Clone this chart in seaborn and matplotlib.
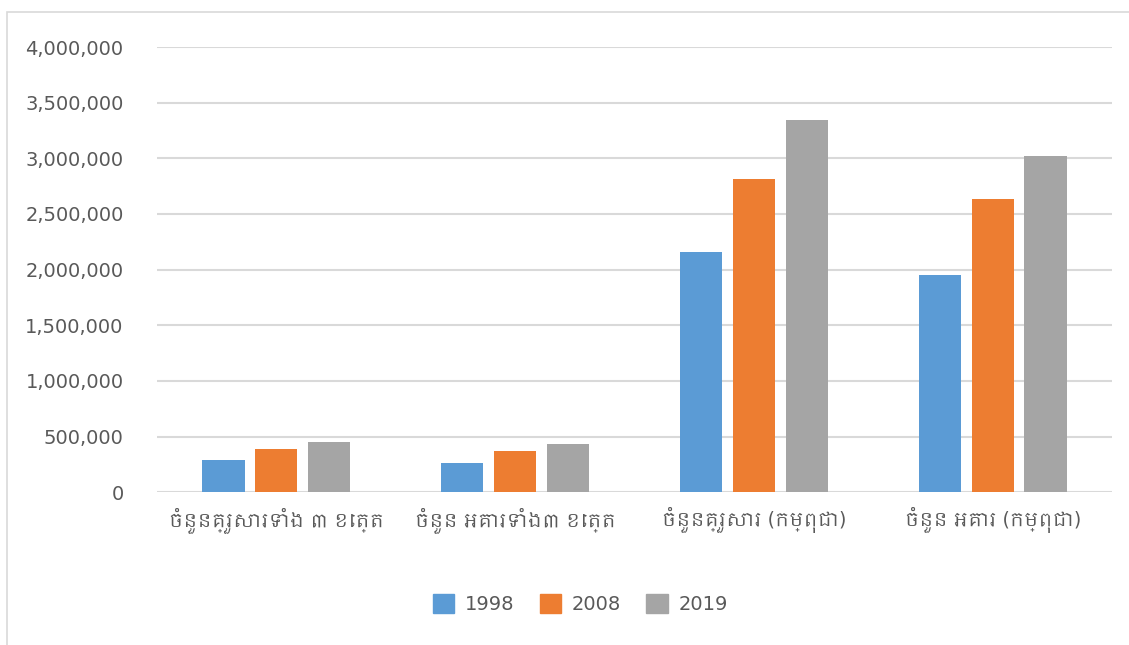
import pandas as pd
import seaborn as sns
import matplotlib.pyplot as plt
from matplotlib import font_manager
from matplotlib.patches import Rectangle
from matplotlib.ticker import FuncFormatter

categories = [
    "ចំនួនគ្រួសារទាំង ៣ ខេត្ត",
    "ចំនួន អគារទាំង៣ ខេត្ត",
    "ចំនួនគ្រួសារ (កម្ពុជា)",
    "ចំនួន អគារ (កម្ពុជា)",
]
years = ["1998", "2008", "2019"]
values_1998 = [292000, 259000, 2159000, 1955000]
values_2008 = [385000, 373000, 2817000, 2635000]
values_2019 = [450000, 430000, 3341000, 3021000]
colors = ["#5B9BD5", "#ED7D31", "#A5A5A5"]

df = pd.DataFrame({
    "category": categories * 3,
    "year": [y for y in years for _ in categories],
    "value": values_1998 + values_2008 + values_2019,
})

sns.set_theme(style="white")
# pick up a Khmer-capable font if one happens to be installed
khmer = [f.name for f in font_manager.fontManager.ttflist if "khmer" in f.name.lower()]
families = ["DejaVu Sans"] + sorted(set(khmer))
plt.rcParams["font.family"] = families

fig = plt.figure(figsize=(11.29, 6.45), dpi=100)
ax = fig.add_axes([0.139, 0.237, 0.846, 0.690])

sns.barplot(data=df, x="category", y="value", hue="year", palette=colors,
            width=0.665, gap=0.2, saturation=1, edgecolor="none", ax=ax,
            legend=False)

ax.set_xlim(-0.5, 3.5)
ax.set_ylim(0, 4000000)
ax.set_yticks(range(0, 4000001, 500000))
ax.yaxis.set_major_formatter(FuncFormatter(lambda v, p: f"{int(v):,}"))
ax.grid(axis="y", color="#D9D9D9", linewidth=1.5)
ax.set_axisbelow(True)
for s in ax.spines.values():
    s.set_visible(False)
ax.set_xlabel("")
ax.set_ylabel("")
ax.tick_params(axis="y", labelsize=14, labelcolor="#595959", pad=24, length=0)
ax.tick_params(axis="x", labelsize=13.5, labelcolor="#595959", pad=11, length=0)

handles = [Rectangle((0, 0), 1, 1, color=c) for c in colors]
fig.legend(handles, years, loc="center", bbox_to_anchor=(0.514, 0.063), ncol=3,
           frameon=False, fontsize=14, handlelength=1.1, handleheight=1.1,
           handletextpad=0.55, columnspacing=1.3, labelcolor="#595959")

# outer chart border (right and bottom fall off the canvas)
fig.patches.append(Rectangle((7 / 1129, -0.1), 1.2, 1.1 - 12 / 645,
                             transform=fig.transFigure, fill=False,
                             edgecolor="#D9D9D9", linewidth=1.2))

fig.savefig("out.png", dpi=100)
